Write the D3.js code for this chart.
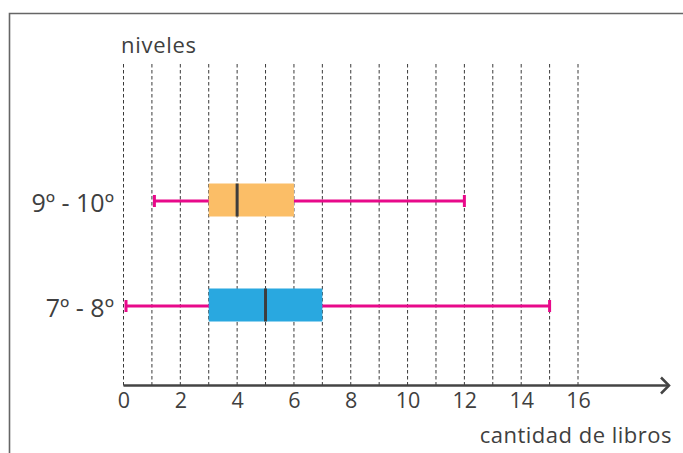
<!DOCTYPE html>
<html><head><meta charset="utf-8">
<script src="https://cdn.jsdelivr.net/npm/d3@7"></script>
<style>
body{margin:0;background:#fff;}
text{font-family:"Open Sans",sans-serif;fill:#3f3f3f;}
</style></head>
<body><svg id="c" width="683" height="453"></svg>
<script>
const categories = ["9º - 10º", "7º - 8º"];
const minVals = [1, 0];
const q1Vals = [3, 3];
const medianVals = [4, 5];
const q3Vals = [6, 7];
const maxVals = [12, 15];
const boxColors = ["#FBBE67", "#29A8E0"];
const tickValues = [0, 2, 4, 6, 8, 10, 12, 14, 16];
const gridValues = d3.range(0, 17);

const svg = d3.select("#c");
const x = d3.scaleLinear().domain([0, 16]).range([123.5, 578]);
const y = d3.scalePoint().domain(categories).range([200, 305]);
const gridTop = 64, axisY = 385.5;

// frame
svg.append("path").attr("d","M9.5,453 V13.5 H683").attr("fill","none").attr("stroke","#666").attr("stroke-width",1.6);

// gridlines
svg.append("g").selectAll("line").data(gridValues).join("line")
  .attr("x1", d=>x(d)).attr("x2", d=>x(d)).attr("y1", gridTop).attr("y2", axisY)
  .attr("stroke","#3a3a3a").attr("stroke-width",1).attr("stroke-dasharray","3.5,2.5");

// axis
const axis = d3.axisBottom(x).tickValues(tickValues).tickSize(0).tickPadding(9);
const ax = svg.append("g").attr("transform",`translate(0,${axisY})`).call(axis);
ax.select(".domain").remove();
ax.selectAll("text").attr("font-size",21.5).attr("font-family","'Open Sans',sans-serif").attr("fill","#3f3f3f").attr("dy","0.62em");
svg.append("line").attr("x1",x(0)).attr("x2",669).attr("y1",axisY).attr("y2",axisY)
  .attr("stroke","#444").attr("stroke-width",2.5);
svg.append("path").attr("d",`M661,${axisY-8} L669,${axisY} L661,${axisY+8}`).attr("fill","none")
  .attr("stroke","#444").attr("stroke-width",2.5);

// labels
svg.append("text").attr("x",121).attr("y",53).attr("font-size",22).attr("letter-spacing",0.7).text("niveles");
svg.append("text").attr("x",672).attr("y",443).attr("font-size",22).attr("letter-spacing",0.5).attr("text-anchor","end").text("cantidad de libros");
svg.append("g").selectAll("text").data(categories).join("text")
  .attr("x",114).attr("y",d=>y(d)+12).attr("text-anchor","end").attr("font-size",25).text(d=>d);

// boxes
const boxH = 33;
const g = svg.append("g");
categories.forEach((c,i)=>{
  const cy = y(c);
  g.append("line").attr("x1",x(minVals[i])+1.5).attr("x2",x(maxVals[i])).attr("y1",cy+1).attr("y2",cy+1)
    .attr("stroke","#E8098A").attr("stroke-width",3);
  [minVals[i], maxVals[i]].forEach((v,k)=>{
    g.append("line").attr("x1",x(v)+(k===0?2.5:0)).attr("x2",x(v)+(k===0?2.5:0)).attr("y1",cy-5).attr("y2",cy+7)
      .attr("stroke","#E8098A").attr("stroke-width",3);
  });
  g.append("rect").attr("x",x(q1Vals[i])).attr("width",x(q3Vals[i])-x(q1Vals[i]))
    .attr("y",cy-boxH/2).attr("height",boxH).attr("fill",boxColors[i]);
  g.append("line").attr("x1",x(medianVals[i])).attr("x2",x(medianVals[i]))
    .attr("y1",cy-boxH/2).attr("y2",cy+boxH/2).attr("stroke","#3d3d3d").attr("stroke-width",3);
});
</script></body></html>
